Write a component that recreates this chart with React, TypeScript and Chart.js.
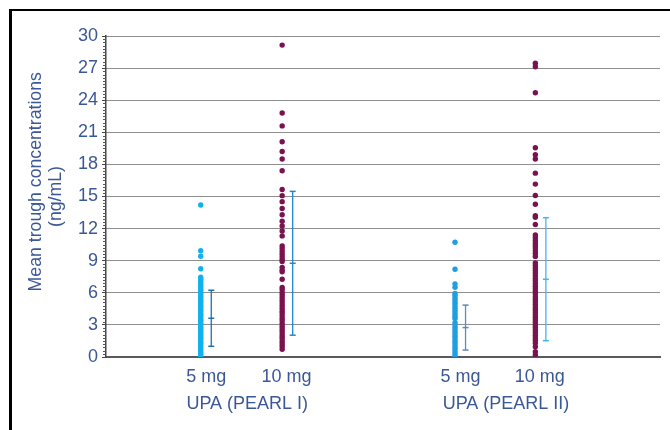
import React, { useEffect, useRef } from "react";
import { Chart, registerables } from "chart.js";

Chart.register(...registerables);

// ---- data ----
const columnLabels = ["5 mg", "10 mg", "5 mg", "10 mg"];
const groupLabels = ["UPA (PEARL I)", "UPA (PEARL II)"];
const yTitle = ["\u00a0\u00a0\u00a0\u00a0\u00a0\u00a0Mean trough concentrations", "(ng/mL)"];

const pearl1_5mg = [14.2, 9.93, 9.42, 8.25, 7.45, 7.3, 7.12, 6.9, 6.72, 6.55, 6.31, 6.18, 5.96, 5.74, 5.6, 5.38, 5.2, 5.02, 4.81, 4.66, 4.43, 4.28, 4.05, 3.9, 3.71, 3.5, 3.36, 3.15, 2.98, 2.77, 2.6, 2.41, 2.22, 2.06, 1.85, 1.7, 1.49, 1.3, 1.14, 0.95, 0.78, 0.6, 0.41, 0.25, 0.08];
const pearl1_10mg = [29.15, 22.8, 21.6, 20.12, 19.2, 18.5, 17.4, 15.65, 15.08, 14.52, 13.88, 13.3, 12.68, 12.25, 11.78, 11.32, 10.38, 10.12, 9.85, 9.6, 9.36, 9.12, 8.92, 8.38, 8.12, 7.96, 7.26, 6.5, 6.28, 6.02, 5.8, 5.55, 5.3, 5.06, 4.82, 4.55, 4.3, 4.12, 3.85, 3.6, 3.38, 3.12, 2.88, 2.64, 2.4, 2.15, 1.92, 1.7, 1.45, 1.22, 0.98, 0.72];
const pearl2_5mg = [10.72, 8.2, 6.82, 6.51, 5.95, 5.76, 5.52, 5.33, 5.1, 4.88, 4.64, 4.42, 4.2, 3.98, 3.77, 3.6, 3.2, 2.98, 2.75, 2.52, 2.3, 2.06, 1.84, 1.6, 1.38, 1.15, 0.92, 0.7, 0.46, 0.24, 0.04];
const pearl2_10mg = [27.45, 27.12, 24.7, 19.56, 18.9, 18.5, 17.18, 16.16, 15.1, 14.28, 13.2, 13.05, 12.38, 11.4, 11.16, 10.92, 10.66, 10.42, 10.2, 9.94, 9.68, 9.4, 8.8, 8.58, 8.32, 8.08, 7.84, 7.6, 7.35, 7.12, 6.86, 6.62, 6.38, 6.14, 5.9, 5.64, 5.4, 5.16, 4.92, 4.68, 4.44, 4.2, 3.96, 3.72, 3.48, 3.24, 3.0, 2.76, 2.52, 2.28, 2.04, 1.8, 1.56, 1.3, 0.96, 0.5, 0.19];

const meanValues = [3.62, 8.76, 2.75, 7.27];
const sdValues = [2.62, 6.72, 2.1, 5.75];

const yMin = 0;
const yMax = 30;
const yStep = 3;

// ---- layout (x-scale positions, not data) ----
const columnX = [1.71, 3.18, 6.3, 7.75];
const errorOffset = 0.19;
const labelX = [1.81, 3.26, 6.4, 7.83];
const groupX = [2.55, 7.22];

// ---- styles ----
const FONT = "'Liberation Sans', Arial, sans-serif";
const TEXT_COLOR = "#3b5896";
const dotColors = ["#10b2ee", "#7b1250", "#1f9fe2", "#7b1250"];
const errColors = ["#1f6fae", "#1e88cc", "#5b8db8", "#45b6ea"];

const columns = [pearl1_5mg, pearl1_10mg, pearl2_5mg, pearl2_10mg];

const minorTicks = {
  id: "minorTicks",
  afterDraw(chart: any) {
    const y = chart.scales.y;
    const ctx = chart.ctx;
    ctx.save();
    ctx.strokeStyle = "#555";
    ctx.lineWidth = 1;
    ctx.beginPath();
    const sub = 10;
    const n = ((yMax - yMin) / yStep) * sub;
    for (let k = 0; k <= n; k++) {
      if (k % sub === 0) continue;
      const py = Math.round(y.getPixelForValue(yMin + (k * yStep) / sub)) + 0.5;
      ctx.moveTo(y.right - 3, py);
      ctx.lineTo(y.right, py);
    }
    ctx.stroke();
    ctx.restore();
  },
};

export default function App() {
  const ref = useRef<HTMLCanvasElement | null>(null);

  useEffect(() => {
    if (!ref.current) return;
    const datasets: any[] = [];
    columns.forEach((vals, i) => {
      datasets.push({
        type: "scatter",
        data: vals.map((v) => ({ x: columnX[i], y: v })),
        backgroundColor: dotColors[i],
        borderWidth: 0,
        pointRadius: 2.7,
        pointHoverRadius: 2.7,
        xAxisID: "x",
        yAxisID: "y",
      });
    });
    meanValues.forEach((m, i) => {
      const sd = sdValues[i];
      const ex = columnX[i] + errorOffset;
      datasets.push({
        type: "scatter",
        showLine: true,
        data: [
          { x: ex, y: m - sd },
          { x: ex, y: m },
          { x: ex, y: m + sd },
        ],
        borderColor: errColors[i],
        backgroundColor: errColors[i],
        borderWidth: 1.3,
        pointStyle: "line",
        pointRadius: 3,
        pointBorderWidth: 1.5,
        pointBorderColor: errColors[i],
        xAxisID: "x",
        yAxisID: "y",
      });
    });

    const chart = new Chart(ref.current, {
      type: "scatter",
      data: { datasets },
      options: {
        animation: false,
        responsive: false,
        devicePixelRatio: 1,
        layout: { padding: { left: 0, right: 10, top: 36, bottom: 15 } },
        plugins: { legend: { display: false }, tooltip: { enabled: false } },
        scales: {
          x: {
            type: "linear",
            position: "bottom",
            weight: 0,
            min: 0,
            max: 10,
            grid: { display: false, drawTicks: false },
            border: { display: true, color: "#5a5a5a", width: 2 },
            ticks: {
              padding: 9,
              color: TEXT_COLOR,
              font: { family: FONT, size: 18 },
              autoSkip: false,
              maxRotation: 0,
              callback: (_v: any, i: number) => columnLabels[i],
            },
            afterBuildTicks: (s: any) => {
              s.ticks = labelX.map((v) => ({ value: v }));
            },
            afterFit: (s: any) => {
              s.height = 30;
            },
          },
          xg: {
            type: "linear",
            position: "bottom",
            weight: 1,
            min: 0,
            max: 10,
            grid: { display: false, drawTicks: false },
            border: { display: false },
            ticks: {
              padding: 6,
              color: TEXT_COLOR,
              font: { family: FONT, size: 18 },
              autoSkip: false,
              maxRotation: 0,
              callback: (_v: any, i: number) => groupLabels[i],
            },
            afterBuildTicks: (s: any) => {
              s.ticks = groupX.map((v) => ({ value: v }));
            },
            afterFit: (s: any) => {
              s.height = 28;
            },
          },
          y: {
            type: "linear",
            position: "left",
            min: yMin,
            max: yMax,
            ticks: {
              stepSize: yStep,
              padding: 4,
              color: TEXT_COLOR,
              font: { family: FONT, size: 18 },
            },
            grid: {
              color: (ctx: any) => (ctx.tick && ctx.tick.value === 0 ? "rgba(0,0,0,0)" : "#1e1e1e"),
              tickColor: "#444",
              tickLength: 4,
              lineWidth: 1,
            },
            border: { display: true, color: "#444", width: 1.5, dash: [1, 1] },
            title: {
              display: true,
              text: yTitle,
              color: TEXT_COLOR,
              font: { family: FONT, size: 17.7, lineHeight: 1.15 },
              padding: { top: 25.6, bottom: 0 },
            },
            afterFit: (s: any) => {
              s.width = 106;
            },
          },
        },
      },
      plugins: [minorTicks],
    } as any);
    return () => chart.destroy();
  }, []);

  return (
    <div style={{ position: "absolute", left: 0, top: 0, width: 670, height: 430, background: "#fff" }}>
      <canvas ref={ref} width={670} height={430} style={{ position: "absolute", left: 0, top: 0 }} />
      <div
        style={{
          position: "absolute",
          left: 9,
          top: 9,
          right: 0,
          bottom: 0,
          borderTop: "2px solid #000",
          borderLeft: "3px solid #000",
          boxSizing: "border-box",
          pointerEvents: "none",
        }}
      />
    </div>
  );
}
